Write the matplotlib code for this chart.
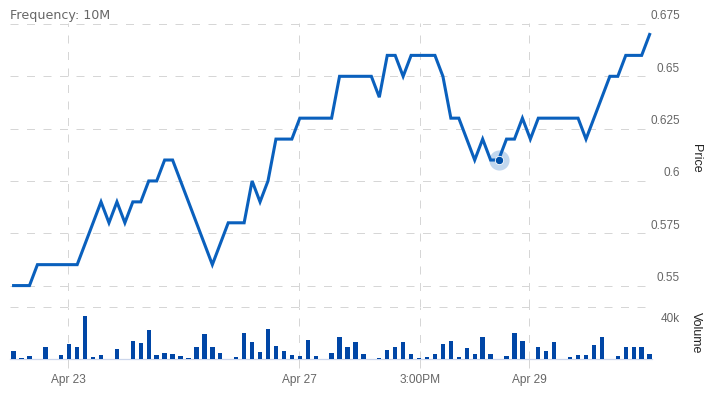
import matplotlib
matplotlib.use('Agg')
from matplotlib import pyplot as plt
from matplotlib.transforms import ScaledTranslation
import numpy as np

# price for each 10-minute bar (ordinal axis)
prices = [0.55, 0.55, 0.55, 0.56, 0.56, 0.56, 0.56, 0.56, 0.56, 0.57,
          0.58, 0.59, 0.58, 0.59, 0.58, 0.59, 0.59, 0.60, 0.60, 0.61,
          0.61, 0.60, 0.59, 0.58, 0.57, 0.56, 0.57, 0.58, 0.58, 0.58,
          0.60, 0.59, 0.60, 0.62, 0.62, 0.62, 0.63, 0.63, 0.63, 0.63,
          0.63, 0.65, 0.65, 0.65, 0.65, 0.65, 0.64, 0.66, 0.66, 0.65,
          0.66, 0.66, 0.66, 0.66, 0.65, 0.63, 0.63, 0.62, 0.61, 0.62,
          0.61, 0.61, 0.62, 0.62, 0.63, 0.62, 0.63, 0.63, 0.63, 0.63,
          0.63, 0.63, 0.62, 0.63, 0.64, 0.65, 0.65, 0.66, 0.66, 0.66,
          0.67]
volumes = [8000, 1000, 3000, 0, 12000, 0, 4000, 15000, 12000, 43000,
           2000, 4000, 0, 10000, 0, 18000, 16000, 29000, 4000, 6000,
           5000, 3000, 1000, 12000, 25000, 12000, 6000, 0, 2000, 26000,
           17000, 7000, 30000, 13000, 8000, 4000, 3000, 19000, 3000, 0,
           6000, 22000, 12000, 17000, 5000, 0, 1000, 9000, 12000, 17000,
           5000, 1000, 2000, 5000, 15000, 18000, 2000, 11000, 5000, 22000,
           5000, 0, 3000, 26000, 18000, 0, 12000, 8000, 17000, 0,
           2000, 4000, 4000, 14000, 22000, 0, 3000, 12000, 12000, 12000,
           5000]
hover_idx = 61

x_tick_pos = [6.89, 35.95, 51.17, 64.88]
x_tick_labels = ['Apr 23', 'Apr 27', '3:00PM', 'Apr 29']
price_ticks = [0.55, 0.575, 0.6, 0.625, 0.65, 0.675]
price_tick_labels = ['0.55', '0.575', '0.6', '0.625', '0.65', '0.675']
vol_ticks = [40000]
vol_tick_labels = ['40k']

W, H = 721, 400
LINE = '#0a60bd'
BAR = '#0046a6'
GRID = '#d6d6d6'
LBL = '#666666'
grid_kw = dict(color=GRID, lw=0.72, linestyle=(0, (8, 8.5)))

fig = plt.figure(figsize=(W / 100, H / 100), dpi=100)
left, right = 10, 652
ax = fig.add_axes([left / W, 1 - 307 / H, (right - left) / W, 284 / H])
axv = fig.add_axes([left / W, 1 - 359 / H, (right - left) / W, 52 / H],
                   sharex=ax)

x = np.arange(len(prices))
ax.plot(x, prices, color=LINE, lw=2.2, solid_joinstyle='miter', zorder=3)
ax.plot(x[hover_idx], prices[hover_idx], 'o', ms=14.5, color=LINE,
        alpha=0.25, mec='none', zorder=4)
ax.plot(x[hover_idx], prices[hover_idx], 'o', ms=6, color='#0050a8',
        mec='white', mew=0.6, zorder=5)

ax.set_xlim(-0.45, 80.3)
ax.set_ylim(0.675 - 284 / 2100, 0.675 + 1 / 2100)
for p in price_ticks:
    ax.axhline(p, **grid_kw, zorder=1)
ax.set_xticks(x_tick_pos)
ax.grid(axis='x', **grid_kw)
ax.set_yticks([])
ax.tick_params(axis='x', length=0, labelbottom=False)
for s in ax.spines.values():
    s.set_visible(False)

# right-side price labels sit a little above their gridlines
off = ScaledTranslation(0, 0.075, fig.dpi_scale_trans)
lx = (680 - left) / (right - left)
for p, t in zip(price_ticks, price_tick_labels):
    ax.text(lx, p, t, transform=ax.get_yaxis_transform() + off,
            ha='right', va='center', fontsize=8.5, color=LBL,
            family='Liberation Sans', clip_on=False)

axv.bar(x, volumes, width=0.55, color=BAR, zorder=3)
axv.set_ylim(0, 52000)
axv.axhline(52000, clip_on=False, **grid_kw)
axv.set_xticks(x_tick_pos)
axv.set_xticklabels(x_tick_labels, fontsize=8.6, color=LBL,
                    family='Liberation Sans')
axv.grid(axis='x', **grid_kw)
axv.tick_params(axis='x', length=6.5, width=0.72, color=GRID, pad=4.5)
axv.set_yticks([])
for s in axv.spines.values():
    s.set_visible(False)
axv.spines['bottom'].set_visible(True)
axv.spines['bottom'].set_color('#ccd6eb')
axv.spines['bottom'].set_linewidth(0.9)
for v, t in zip(vol_ticks, vol_tick_labels):
    axv.text(lx, v, t, transform=axv.get_yaxis_transform(),
             ha='right', va='center', fontsize=8.5, color=LBL,
             family='Liberation Sans', clip_on=False)

fig.text(696 / W, 1 - 158 / H, 'Price', rotation=270, ha='center',
         va='center', fontsize=9, color='#222222', family='Liberation Sans')
fig.text(696 / W, 1 - 333 / H, 'Volume', rotation=270, ha='center',
         va='center', fontsize=9, color='#222222', family='Liberation Sans')
fig.text(10 / W, 1 - 15 / H, 'Frequency: 10M', ha='left', va='center',
         fontsize=9.1, color=LBL, family='DejaVu Sans')

fig.savefig('out.png', dpi=100)
